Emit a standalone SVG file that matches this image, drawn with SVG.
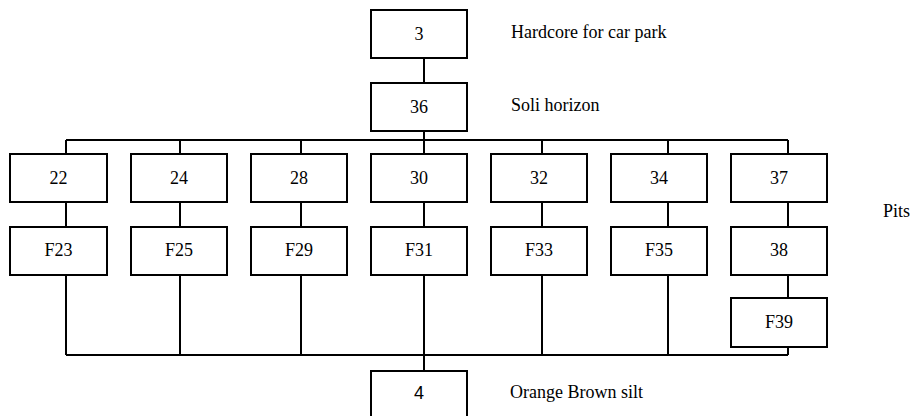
<svg xmlns="http://www.w3.org/2000/svg" width="920" height="416" viewBox="0 0 920 416">
<style>
.box{fill:#fff;stroke:#000;stroke-width:2}
.ln{fill:none;stroke:#000;stroke-width:2}
.c{text-anchor:middle}
</style>
<rect width="920" height="416" fill="#fff"/>
<g id="connectors">
<path class="ln" d="M424 58V83M424 131V140M66 140H788M66 140V154M180 140V154M301 140V154M424 140V154M542 140V154M668 140V154M788 140V154"/>
<path class="ln" d="M66 202V227M180 202V227M301 202V227M424 202V227M542 202V227M668 202V227M788 202V227"/>
<path class="ln" d="M66 275V355M180 275V355M301 275V355M424 275V371M542 275V355M668 275V355M788 275V298M788 347V355M66 355H788"/>
</g>
<g font-family="Liberation Serif, serif" font-size="18" fill="#000">
<g id="n3"><rect class="box" x="371" y="10" width="96" height="48"/><text class="c" x="419" y="40">3</text></g>
<g id="n36"><rect class="box" x="371" y="83" width="96" height="48"/><text class="c" x="419" y="113">36</text></g>
<g id="n22"><rect class="box" x="10" y="154" width="97" height="48"/><text class="c" x="58.5" y="184">22</text></g>
<g id="n24"><rect class="box" x="131" y="154" width="96" height="48"/><text class="c" x="179" y="184">24</text></g>
<g id="n28"><rect class="box" x="251" y="154" width="96" height="48"/><text class="c" x="299" y="184">28</text></g>
<g id="n30"><rect class="box" x="371" y="154" width="96" height="48"/><text class="c" x="419" y="184">30</text></g>
<g id="n32"><rect class="box" x="491" y="154" width="96" height="48"/><text class="c" x="539" y="184">32</text></g>
<g id="n34"><rect class="box" x="611" y="154" width="96" height="48"/><text class="c" x="659" y="184">34</text></g>
<g id="n37"><rect class="box" x="731" y="154" width="96" height="48"/><text class="c" x="779" y="184">37</text></g>
<g id="nF23"><rect class="box" x="10" y="227" width="97" height="48"/><text class="c" x="58.5" y="256">F23</text></g>
<g id="nF25"><rect class="box" x="131" y="227" width="96" height="48"/><text class="c" x="179" y="256">F25</text></g>
<g id="nF29"><rect class="box" x="251" y="227" width="96" height="48"/><text class="c" x="299" y="256">F29</text></g>
<g id="nF31"><rect class="box" x="371" y="227" width="96" height="48"/><text class="c" x="419" y="256">F31</text></g>
<g id="nF33"><rect class="box" x="491" y="227" width="96" height="48"/><text class="c" x="539" y="256">F33</text></g>
<g id="nF35"><rect class="box" x="611" y="227" width="96" height="48"/><text class="c" x="659" y="256">F35</text></g>
<g id="n38"><rect class="box" x="731" y="227" width="96" height="48"/><text class="c" x="779" y="256">38</text></g>
<g id="nF39"><rect class="box" x="731" y="298" width="96" height="49"/><text class="c" x="779" y="328">F39</text></g>
<g id="n4"><rect class="box" x="371" y="371" width="96" height="60"/><text class="c" x="419" y="399" font-family="Liberation Sans, sans-serif">4</text></g>
<g id="labels">
<text x="511" y="38">Hardcore for car park</text>
<text x="511" y="111">Soli horizon</text>
<text x="883" y="217">Pits</text>
<text x="510" y="398">Orange Brown silt</text>
</g>
</g>
</svg>
